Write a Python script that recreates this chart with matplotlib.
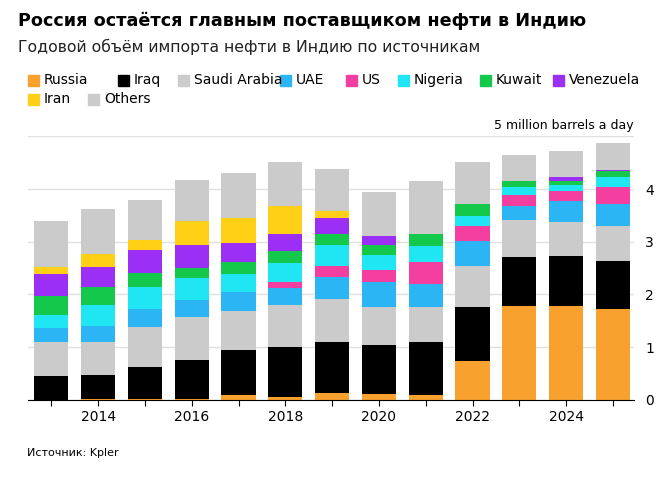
import matplotlib
matplotlib.use("Agg")
import matplotlib.pyplot as plt
import numpy as np

years = list(range(2013, 2026))
series = ["Russia", "Iraq", "Saudi Arabia", "UAE", "US", "Nigeria", "Kuwait", "Venezuela", "Iran", "Others"]
russia  = [0, 0.01, 0.01, 0.01, 0.09, 0.06, 0.13, 0.11, 0.09, 0.73, 1.79, 1.78, 1.72]
iraq    = [.46, .46, .61, .75, .85, .95, .97, .93, 1.00, 1.03, .92, .95, .92]
saudi   = [.63, .63, .77, .82, .75, .79, .82, .73, .68, .78, .71, .65, .65]
uae     = [.28, .31, .34, .32, .35, .33, .42, .46, .43, .47, .26, .39, .43]
us      = [0, 0, 0, 0, 0, .10, .20, .24, .41, .29, .21, .20, .32]
nigeria = [.24, .39, .42, .42, .35, .36, .39, .28, .31, .19, .14, .11, .19]
kuwait  = [.36, .34, .26, .19, .22, .24, .22, .19, .22, .22, .13, .07, .11]
venez   = [.42, .38, .43, .42, .36, .32, .30, .17, 0, 0, 0, .07, .03]
iran    = [.13, .25, .19, .46, .48, .52, .13, 0, 0, 0, 0, 0, 0]
others  = [.87, .86, .76, .78, .86, .85, .81, .84, 1.01, .80, .48, .51, .50]
values = [russia, iraq, saudi, uae, us, nigeria, kuwait, venez, iran, others]
colors = ["#f9a12e", "#000000", "#cbcbcb", "#2bb5f5", "#f43ea0", "#1fe6f2", "#13c84a", "#9b2ff5", "#ffd015", "#cbcbcb"]

fig = plt.figure(figsize=(6.66, 4.87), dpi=100)
ax = fig.add_axes([0.042, 0.179, 0.91, 0.541])
bottom = np.zeros(len(years))
for name, v, c in zip(series, values, colors):
    ax.bar(years, v, bottom=bottom, width=0.73, color=c, zorder=2)
    bottom += np.array(v)

ax.set_xlim(2012.5, 2025.45)
ax.set_ylim(0, 5)
ax.set_yticks([0, 1, 2, 3, 4, 5])
ax.yaxis.tick_right()
ax.set_yticklabels(["0", "1", "2", "3", "4", ""], fontsize=10)
ax.tick_params(axis="y", length=0, pad=8)
ax.grid(axis="y", color="#e0e0e0", lw=1, zorder=0)
for s in ["top", "right", "left"]:
    ax.spines[s].set_visible(False)
ax.spines["bottom"].set_color("black")
ax.set_xticks(years)
ax.set_xticklabels([str(y) if y % 2 == 0 else "" for y in years], fontsize=10)
ax.tick_params(axis="x", length=4, color="black")
ax.text(1.0, 5.08, "5 million barrels a day", transform=ax.get_yaxis_transform(), ha="right", va="bottom", fontsize=9)

fig.text(0.027, 0.958, "Россия остаётся главным поставщиком нефти в Индию", fontsize=12.7, fontweight="bold", va="center")
fig.text(0.027, 0.903, "Годовой объём импорта нефти в Индию по источникам", fontsize=11.3, va="center", color="#222222")

leg = [("Russia", 0), ("Iraq", 1), ("Saudi Arabia", 2), ("UAE", 3), ("US", 4), ("Nigeria", 5), ("Kuwait", 6), ("Venezuela", 7)]
xs = [28, 118, 178, 280, 346, 398, 480, 553]
for (name, i), x in zip(leg, xs):
    fig.patches.append(plt.Rectangle((x / 666, 1 - 86 / 487), 11 / 666, 11 / 487, transform=fig.transFigure, color=colors[i], figure=fig))
    fig.text((x + 16) / 666, 1 - 80 / 487, name, fontsize=10, va="center")
for (name, i), x in zip([("Iran", 8), ("Others", 9)], [28, 88]):
    fig.patches.append(plt.Rectangle((x / 666, 1 - 105 / 487), 11 / 666, 11 / 487, transform=fig.transFigure, color=colors[i], figure=fig))
    fig.text((x + 16) / 666, 1 - 99 / 487, name, fontsize=10, va="center")

fig.text(0.04, 1 - 453 / 487, "Источник: Kpler", fontsize=8, va="center")
fig.savefig("out.png", dpi=100)
